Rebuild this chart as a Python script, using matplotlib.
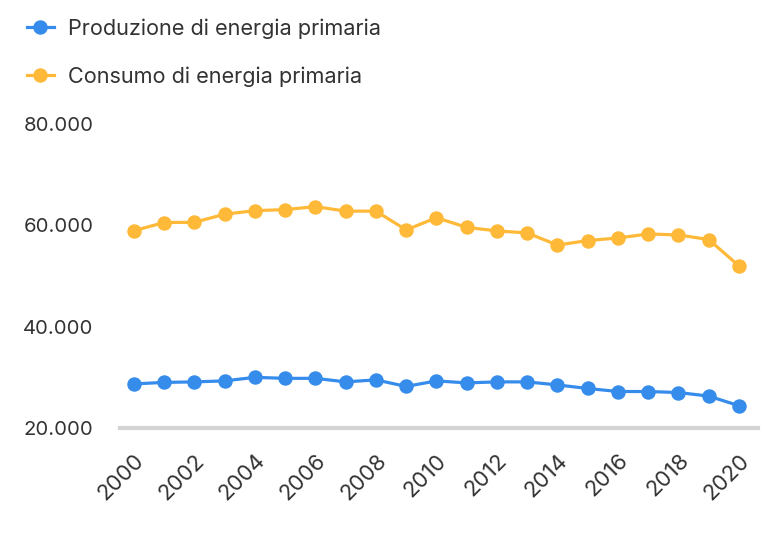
import matplotlib.pyplot as plt
from matplotlib.ticker import FuncFormatter
from matplotlib.lines import Line2D

plt.rcParams['font.family'] = ['Inter', 'DejaVu Sans']

years = list(range(2000, 2021))
produzione = [28700, 29000, 29100, 29300, 30000, 29800, 29800, 29100, 29500, 28200,
              29300, 28900, 29100, 29100, 28500, 27800, 27200, 27200, 27000, 26300, 24400]
consumo = [58950, 60550, 60600, 62200, 62900, 63100, 63700, 62800, 62800, 59100,
           61500, 59600, 58900, 58500, 56100, 57000, 57500, 58300, 58100, 57200, 52000]
x_ticks = list(range(2000, 2021, 2))
y_ticks = [20000, 40000, 60000, 80000]

blue = '#368CEB'
orange = '#FFB938'
text_col = '#333333'

fig = plt.figure(figsize=(7.82, 5.48), dpi=100)
ax = fig.add_axes([120 / 782, 1 - 428 / 548, 638 / 782, (428 - 124) / 548])

ax.plot(years, produzione, color=blue, lw=2.3, marker='o', ms=9.4, zorder=3, clip_on=False)
ax.plot(years, consumo, color=orange, lw=2.3, marker='o', ms=9.4, zorder=3, clip_on=False)

ax.set_xlim(1999.54, 2020.63)
ax.set_ylim(20000, 80000)
ax.set_xticks(x_ticks)
ax.set_xticklabels([str(y) for y in x_ticks], rotation=45, ha='right',
                   rotation_mode='anchor', fontsize=16, color=text_col)
ax.set_yticks(y_ticks)
ax.yaxis.set_major_formatter(FuncFormatter(lambda v, p: f'{int(v):,}'.replace(',', '.')))
for lbl in ax.get_yticklabels():
    lbl.set_fontsize(14.6)
    lbl.set_color(text_col)
ax.tick_params(axis='y', length=0, pad=19)
ax.tick_params(axis='x', length=0, pad=16)

for s in ['top', 'right', 'left']:
    ax.spines[s].set_visible(False)
ax.spines['bottom'].set_color('#D3D3D3')
ax.spines['bottom'].set_linewidth(3)
ax.spines['bottom'].set_zorder(1)

handles = [
    Line2D([], [], color=blue, lw=2.3, marker='o', ms=9.4),
    Line2D([], [], color=orange, lw=2.3, marker='o', ms=9.4),
]
fig.legend(handles, ['Produzione di energia primaria', 'Consumo di energia primaria'],
           loc='upper left', bbox_to_anchor=(0.023, 0.982), frameon=False,
           borderaxespad=0, fontsize=15.6, labelcolor=text_col, handlelength=1.25,
           handletextpad=0.65, labelspacing=1.26)

fig.savefig('out.png', dpi=100)
